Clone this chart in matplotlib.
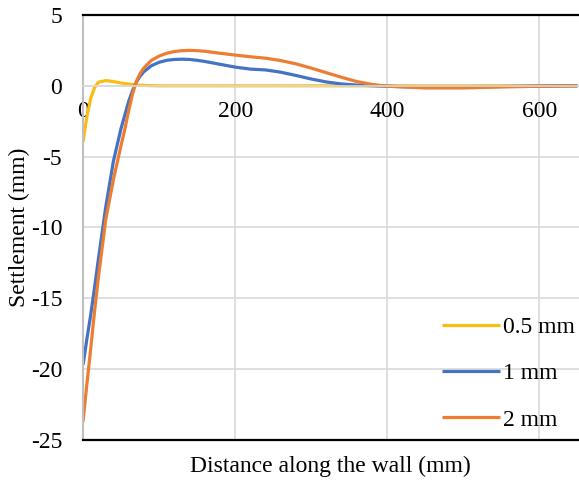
import matplotlib.pyplot as plt

plt.rcParams['font.family'] = ['Liberation Serif', 'DejaVu Serif']
plt.rcParams['font.size'] = 17
plt.rcParams['axes.unicode_minus'] = False

# settlement profiles behind the wall, one per wall movement
x = [0, 5, 10, 15, 20, 30, 40, 50, 55, 60, 65, 70, 75, 80, 90, 100, 110, 120, 130,
     140, 150, 160, 180, 200, 220, 240, 260, 280, 300, 320, 340, 360, 380, 400,
     450, 500, 550, 600, 650]
s_05 = [-3.95, -2.2, -0.9, -0.15, 0.25, 0.37, 0.3, 0.2, 0.16, 0.12, 0.09, 0.06, 0.04,
        0.03, 0.01, 0.0, 0.0, 0.0, 0.0, 0.0, 0.0, 0.0, 0.0, 0.0, 0.0, 0.0, 0.0, 0.0,
        0.0, 0.0, 0.0, 0.0, 0.0, 0.0, 0.0, 0.0, 0.0, 0.0, 0.0]
s_1 = [-19.7, -17.9, -16.2, -14.3, -12.3, -8.5, -5.3, -3.0, -2.05, -1.1, -0.35, 0.25,
       0.68, 1.0, 1.42, 1.66, 1.8, 1.86, 1.88, 1.86, 1.8, 1.72, 1.52, 1.32, 1.18, 1.12,
       0.96, 0.73, 0.48, 0.27, 0.13, 0.05, 0.01, -0.03, -0.1, -0.09, -0.05, -0.02, 0.0]
s_2 = [-23.7, -21.1, -18.6, -16.0, -13.6, -9.4, -6.6, -4.2, -3.05, -1.75, -0.6, 0.3,
       0.86, 1.26, 1.8, 2.1, 2.3, 2.42, 2.48, 2.5, 2.48, 2.44, 2.3, 2.17, 2.05, 1.95,
       1.78, 1.55, 1.25, 0.92, 0.6, 0.3, 0.1, -0.03, -0.15, -0.15, -0.08, -0.03, 0.0]

series = [("0.5 mm", s_05, "#FBBC14"),
          ("1 mm", s_1, "#4472C4"),
          ("2 mm", s_2, "#ED7D31")]

fig = plt.figure(figsize=(5.79, 4.83), dpi=100)
ax = fig.add_axes([0.1434, 0.089, 0.8566, 0.880])

for name, s, c in series:
    ax.plot(x, s, color=c, lw=2.3, label=name, solid_capstyle='butt')

ax.set_xlim(0, 652)
ax.set_ylim(-25, 5)
ax.set_xticks([0, 200, 400, 600])
ax.set_yticks(range(-25, 6, 5))
ax.grid(True, color='#d9d9d9', lw=1.2)
ax.set_axisbelow(True)

# x axis sits on the zero line; frame drawn top and bottom in black
ax.spines['bottom'].set_position(('data', 0))
ax.spines['bottom'].set_color('#d9d9d9')
ax.spines['bottom'].set_linewidth(1.2)
ax.spines['left'].set_color('#bfbfbf')
ax.spines['left'].set_linewidth(1.5)
ax.spines['right'].set_visible(False)
ax.spines['top'].set_color('black')
ax.spines['top'].set_linewidth(1.6)
ax.plot([0, 1], [0, 0], transform=ax.transAxes, color='black', lw=1.6,
        clip_on=False, zorder=3)

ax.tick_params(axis='x', length=0, pad=11)
ax.tick_params(axis='y', length=0, pad=15)

fig.text(19 / 579, 0.529, "Settlement (mm)", rotation=90, ha='center', va='center',
         fontsize=17)
fig.text(0.57, 0.035, "Distance along the wall (mm)", ha='center', va='center',
         fontsize=17)

ax.legend(loc='lower right', bbox_to_anchor=(1.011, 0.0), frameon=False,
          handlelength=2.45, handletextpad=0.12, labelspacing=1.05,
          borderpad=0.4, borderaxespad=0.0)

fig.savefig("out.png", dpi=100)
